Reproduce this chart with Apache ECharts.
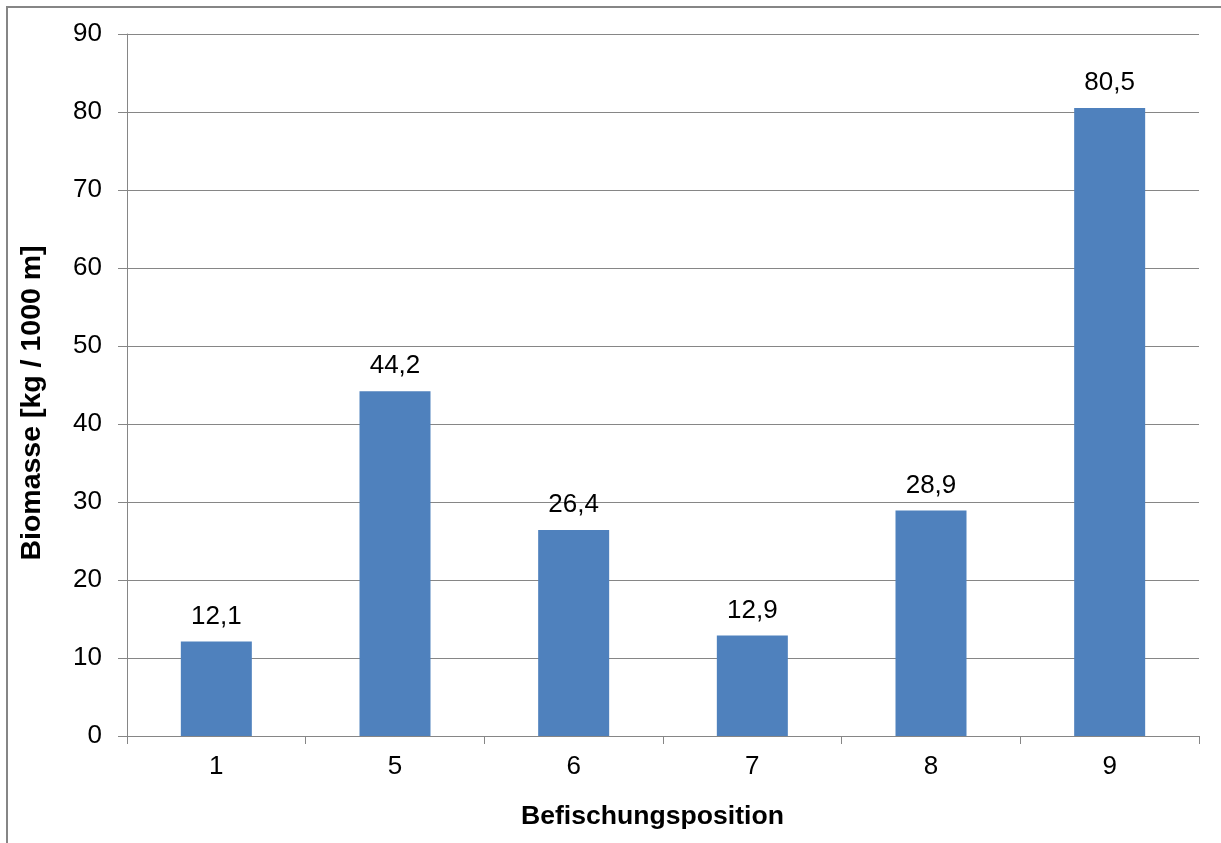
<!DOCTYPE html>
<html>
<head>
<meta charset="utf-8">
<script src="https://cdn.jsdelivr.net/npm/echarts@6/dist/echarts.min.js"></script>
<style>
html, body { margin: 0; padding: 0; background: #fff; }
#chart { width: 1221px; height: 843px; }
</style>
</head>
<body>
<div id="chart"></div>
<script>
// Fish biomass per sampling position
const positions = ['1', '5', '6', '7', '8', '9'];
const biomass = [12.1, 44.2, 26.4, 12.9, 28.9, 80.5];
const yTicks = { min: 0, max: 90, interval: 10 };

const font = '"Liberation Sans", Arial, sans-serif';
const chart = echarts.init(document.getElementById('chart'), null, { renderer: 'canvas' });

chart.setOption({
  animation: false,
  backgroundColor: '#fff',
  graphic: [{
    type: 'rect',
    shape: { x: 7, y: 7, width: 1300, height: 900 },
    style: { fill: 'none', stroke: '#868686', lineWidth: 2 },
    silent: true
  }],
  grid: { left: 127, right: 22, top: 34, bottom: 107, containLabel: false },
  xAxis: {
    type: 'category',
    data: positions,
    name: 'Befischungsposition',
    nameLocation: 'middle',
    nameGap: 67,
    nameTextStyle: { fontFamily: font, fontSize: 26.6, fontWeight: 'bold', color: '#000', padding: [0, 21, 0, 0] },
    axisLine: { lineStyle: { color: '#868686', width: 1 } },
    axisTick: { show: true, alignWithLabel: false, length: 8, lineStyle: { color: '#868686' } },
    axisLabel: { fontFamily: font, fontSize: 26, color: '#000', margin: 18 }
  },
  yAxis: {
    type: 'value',
    min: yTicks.min,
    max: yTicks.max,
    interval: yTicks.interval,
    name: 'Biomasse [kg / 1000 m]',
    nameLocation: 'middle',
    nameGap: 80,
    nameRotate: 90,
    nameTextStyle: { fontFamily: font, fontSize: 28.5, fontWeight: 'bold', color: '#000', padding: [0, 36, 0, 0] },
    axisLine: { show: true, lineStyle: { color: '#868686', width: 1 } },
    axisTick: { show: true, inside: false, length: 9, lineStyle: { color: '#868686' } },
    axisLabel: { fontFamily: font, fontSize: 26, color: '#000', margin: 25 },
    splitLine: { show: true, lineStyle: { color: '#868686', width: 1 } }
  },
  series: [{
    type: 'bar',
    data: biomass,
    barWidth: 71,
    itemStyle: { color: '#4F81BD' },
    label: {
      show: true,
      position: 'top',
      distance: 12,
      fontFamily: font,
      fontSize: 26,
      color: '#000',
      formatter: p => p.value.toFixed(1).replace('.', ',')
    }
  }]
});
</script>
</body>
</html>
